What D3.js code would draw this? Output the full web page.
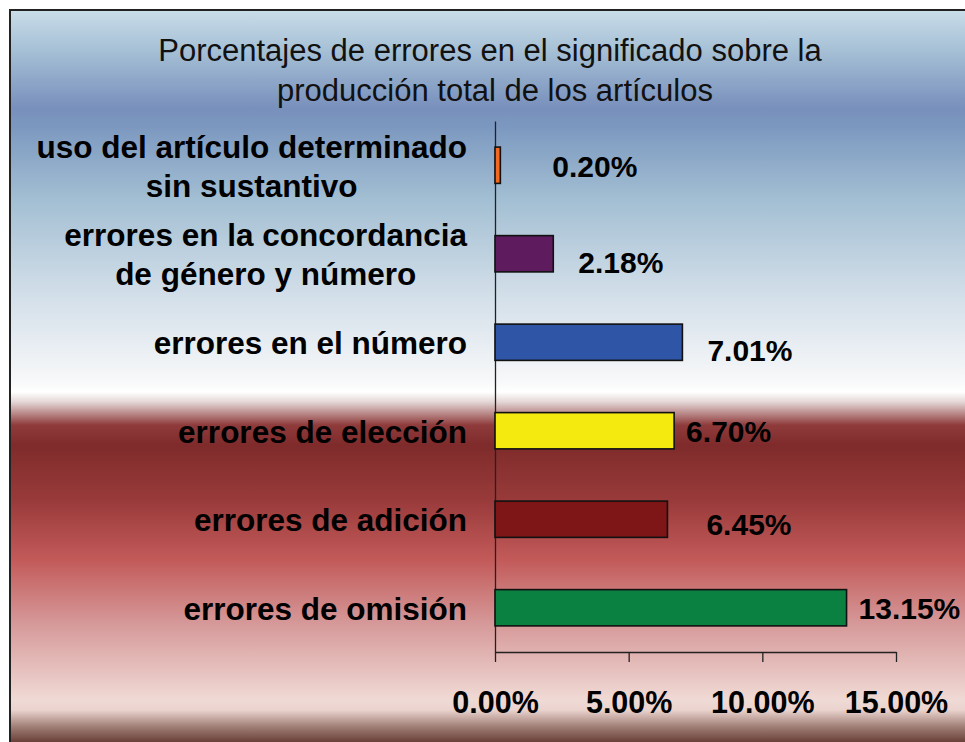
<!DOCTYPE html>
<html>
<head>
<meta charset="utf-8">
<script src="https://cdn.jsdelivr.net/npm/d3@7"></script>
<style>
  body { margin: 0; background: #fff; }
  svg { display: block; }
  text { font-family: "Liberation Sans", Arial, sans-serif; }
</style>
</head>
<body>
<script>
// data, top to bottom as in the chart
var categories = [
    ["uso del artículo determinado", "sin sustantivo"],
    ["errores en la concordancia", "de género y número"],
    ["errores en el número"],
    ["errores de elección"],
    ["errores de adición"],
    ["errores de omisión"]
];
var values = [0.0020, 0.0218, 0.0701, 0.0670, 0.0645, 0.1315];
var ticks = [0, 0.05, 0.10, 0.15];
var titleLines = ["Porcentajes de errores en el significado sobre la", "producción total de los artículos"];

// styling / layout
var barColors = ["#f26a21", "#5e1b5e", "#2f55a6", "#f4ea10", "#7e1517", "#0b8141"];
var labelDx = [52, 25, 25, 12, 39, 12];   // label offsets as placed in the original
var labelDy = [12, 19, 19, 11, 16, 11];
var titleX = [490, 495];

var width = 965, height = 742;

var svg = d3.select("body").append("svg")
    .attr("width", width)
    .attr("height", height);

// background gradient
var grad = svg.append("defs").append("linearGradient")
    .attr("id", "bg")
    .attr("gradientUnits", "userSpaceOnUse")
    .attr("x1", 0).attr("x2", 0)
    .attr("y1", 10).attr("y2", 742);

var stops = [
    [10, "#cadde9"], [50, "#a6c0d6"], [108, "#7890bc"], [125, "#7b97bf"],
    [200, "#a3bfd3"], [290, "#d0dde8"], [380, "#f7f8f9"], [392, "#ffffff"],
    [402, "#e4d6d6"], [425, "#8f3b3b"], [445, "#7f2b2b"], [500, "#993a3a"],
    [560, "#c35a5a"], [625, "#d69a9a"], [700, "#f0dad5"], [710, "#ebd3ce"],
    [726, "#a38279"], [742, "#6a4038"]
];
grad.selectAll("stop").data(stops).enter().append("stop")
    .attr("offset", function(d){ return (d[0] - 10) / 732; })
    .attr("stop-color", function(d){ return d[1]; });

svg.append("rect")
    .attr("x", 10).attr("y", 10)
    .attr("width", 1000).attr("height", 1000)
    .attr("fill", "url(#bg)")
    .attr("stroke", "#222")
    .attr("stroke-width", 2);

// title
svg.append("g").selectAll("text").data(titleLines).enter().append("text")
    .attr("x", function(d, i){ return titleX[i]; })
    .attr("y", function(d, i){ return 61 + i * 40; })
    .attr("text-anchor", "middle")
    .style("font-size", "31px")
    .attr("fill", "#111")
    .text(function(d){ return d; });

// scales
var x = d3.scaleLinear().domain([0, 0.15]).range([495, 896]);
var y = d3.scaleBand().domain(d3.range(categories.length))
    .range([121, 652])
    .paddingInner(0.59)
    .paddingOuter(0.295);

// axes
svg.append("g")
    .attr("transform", "translate(" + x(0) + ",0)")
    .call(d3.axisLeft(y).tickSize(0).tickFormat(""))
    .call(function(g){ g.select(".domain").attr("stroke", "#222").attr("stroke-width", 1.3); });

var xAxis = svg.append("g")
    .attr("transform", "translate(0," + 652 + ")")
    .call(d3.axisBottom(x).tickValues(ticks).tickSize(10).tickSizeOuter(0)
        .tickPadding(29).tickFormat(d3.format(".2%")));
xAxis.select(".domain").attr("stroke", "#222").attr("stroke-width", 1.3);
xAxis.selectAll(".tick line").attr("stroke", "#222").attr("stroke-width", 1.3);
xAxis.selectAll(".tick text")
    .attr("fill", "#000")
    .style("font-size", "30.5px")
    .style("font-weight", "bold")
    .style("font-family", "'Liberation Sans', Arial, sans-serif");

// bars
svg.append("g").selectAll("rect").data(values).enter().append("rect")
    .attr("x", x(0))
    .attr("y", function(d, i){ return y(i); })
    .attr("width", function(d){ return x(d) - x(0); })
    .attr("height", y.bandwidth())
    .attr("fill", function(d, i){ return barColors[i]; })
    .attr("stroke", "#111")
    .attr("stroke-width", 1.6);

// value labels
svg.append("g").selectAll("text").data(values).enter().append("text")
    .attr("x", function(d, i){ return x(d) + labelDx[i]; })
    .attr("y", function(d, i){ return y(i) + y.bandwidth() / 2 + labelDy[i]; })
    .style("font-size", "30px")
    .style("font-weight", "bold")
    .attr("fill", "#000")
    .text(function(d){ return d3.format(".2%")(d); });

// category labels, each block right aligned, lines centred inside it
var lineH = 39;
var catG = svg.append("g");
categories.forEach(function(lines, i){
    var cy = y(i) + y.bandwidth() / 2;
    var block = catG.append("g");
    var texts = block.selectAll("text").data(lines).enter().append("text")
        .attr("y", function(d, j){ return cy + 12 + (j - (lines.length - 1) / 2) * lineH; })
        .attr("text-anchor", "middle")
        .style("font-size", "31.5px")
        .style("font-weight", "bold")
        .attr("fill", "#000")
        .text(function(d){ return d; });
    var maxW = 0;
    texts.each(function(){ maxW = Math.max(maxW, this.getComputedTextLength()); });
    texts.attr("x", 467 - maxW / 2);
});
</script>
</body>
</html>
